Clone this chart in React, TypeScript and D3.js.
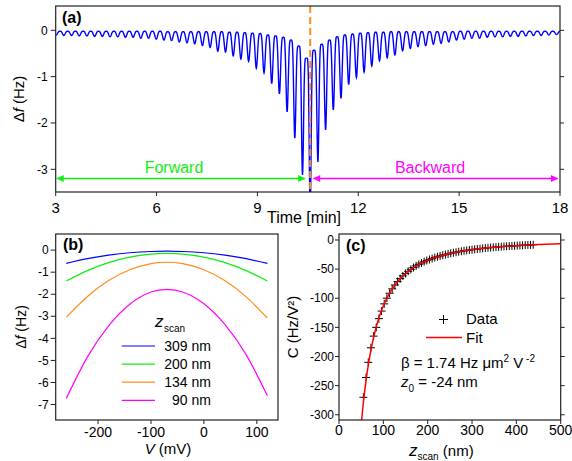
import React from 'react';
import * as d3 from 'd3';

const FONT = "'Liberation Sans', Arial, Helvetica, sans-serif";

// ---------- Panel (a) data ----------
const TIME_TICKS = [3, 6, 9, 12, 15, 18];
const DF_TICKS_A = [0, -1, -2, -3];
const SWEEP_START = 3.013; // min, time of the first dip
const SWEEP_PERIOD = 0.229; // min per oscillation
const TURN_TIME = 10.57; // min, forward -> backward
// depth of each oscillation dip (Hz), in time order
const DIP_MIN = [
  -0.10, -0.11, -0.11, -0.12, -0.12, -0.13, -0.13, -0.14, -0.14, -0.15,
  -0.15, -0.17, -0.17, -0.19, -0.21, -0.22, -0.25, -0.27, -0.29, -0.33,
  -0.37, -0.45, -0.47, -0.55, -0.62, -0.67, -0.82, -0.92, -1.15, -1.37,
  -1.76, -2.33, -3.12, -3.9,
  -2.84, -2.15, -1.72, -1.47, -1.17, -1.02, -0.90, -0.77, -0.66, -0.59,
  -0.53, -0.44, -0.39, -0.35, -0.33, -0.30, -0.28, -0.25, -0.21, -0.19,
  -0.17, -0.17, -0.15, -0.14, -0.14, -0.13, -0.13, -0.12, -0.11, -0.11,
  -0.10, -0.09,
];
// top of each oscillation (Hz), before dip j (and one after the last)
const PEAK_MAX = [
  -0.02, -0.02, -0.02, -0.02, -0.02, -0.02, -0.02, -0.02, -0.02, -0.02,
  -0.02, -0.02, -0.02, -0.02, -0.02,
  -0.03, -0.03, -0.03, -0.03, -0.03, -0.03, -0.03, -0.03,
  -0.04, -0.04, -0.05, -0.06, -0.07, -0.10, -0.12, -0.15, -0.21, -0.34, -0.60,
  -0.43, -0.30, -0.21, -0.14, -0.10, -0.08, -0.06, -0.05, -0.04, -0.04,
  -0.03, -0.03, -0.03, -0.03, -0.03, -0.03, -0.03, -0.03, -0.03,
  -0.02, -0.02, -0.02, -0.02, -0.02, -0.02, -0.02, -0.02, -0.02, -0.02,
  -0.02, -0.02, -0.02, -0.02,
];
const ARROW_Y = -3.2;

// ---------- Panel (b) data ----------
const V_TICKS = [-200, -100, 0, 100];
const DF_TICKS_B = [0, -1, -2, -3, -4, -5, -6, -7];
const BIAS_V = [-260, -220, -180, -140, -100, -70, -40, 0, 40, 80, 120];
const DF_309 = [-0.60, -0.39, -0.23, -0.12, -0.064, -0.05, -0.064, -0.12, -0.23, -0.39, -0.60];
const DF_200 = [-1.40, -0.93, -0.57, -0.32, -0.18, -0.15, -0.18, -0.32, -0.57, -0.93, -1.40];
const DF_134 = [-3.04, -2.10, -1.38, -0.89, -0.61, -0.55, -0.61, -0.89, -1.39, -2.12, -3.08];
const DF_90 = [-6.72, -4.84, -3.43, -2.45, -1.90, -1.78, -1.90, -2.43, -3.38, -4.75, -6.60];
const SERIES_B = [
  { label: '309 nm', values: DF_309, color: '#0000ff' },
  { label: '200 nm', values: DF_200, color: '#11ee11' },
  { label: '134 nm', values: DF_134, color: '#ff8c1a' },
  { label: '90 nm', values: DF_90, color: '#ff00ff' },
];

// ---------- Panel (c) data ----------
const Z_TICKS = [0, 100, 200, 300, 400, 500];
const C_TICKS = [0, -50, -100, -150, -200, -250, -300];
const Z_DATA = [
  55, 61, 66, 72, 78, 84, 90, 96,
  102, 108, 114, 120, 126, 132, 138, 144, 150, 156,
  162, 168, 174, 180, 186, 192, 198, 204, 210, 216,
  222, 228, 234, 240, 246, 252, 258, 264, 270, 276,
  282, 288, 294, 300, 306, 312, 318, 324, 330, 336,
  342, 348, 354, 360, 366, 372, 378, 384, 390, 396,
  402, 408, 414, 420, 426, 432, 438,
];
const C_DATA = [
  -270, -236, -210, -185, -165, -150, -135, -122,
  -109.6, -99.9, -91.4, -83.9, -77.3, -71.5, -66.3, -61.6, -57.5, -53.7,
  -50.3, -47.2, -44.4, -41.8, -39.5, -37.3, -35.3, -33.5, -31.8, -30.2,
  -28.8, -27.4, -26.1, -25.0, -23.9, -22.8, -21.9, -21.0, -20.1, -19.3,
  -18.6, -17.9, -17.2, -16.6, -16.0, -15.4, -14.9, -14.4, -13.9, -13.4,
  -13.0, -12.6, -12.2, -11.8, -11.4, -11.1, -10.8, -10.5, -10.2, -9.9,
  -9.6, -9.3, -9.1, -8.8, -8.6, -8.4, -8.2,
];
const FIT_Z = [51, 55, 60, 65, 70, 75, 80, 90, 100, 115, 130, 150, 175, 200, 250, 300, 350, 400, 450, 500];
const FIT_C = [-309, -279, -247, -220, -197, -178, -161, -134, -113, -90, -73.4, -57.5, -43.9, -34.7, -23.2, -16.6, -12.4, -9.7, -7.7, -6.3];

// ---------- Layout ----------
const A = { l: 55.7, r: 560, t: 6, b: 192 };
const B = { l: 55.7, r: 278, t: 234, b: 420 };
const C = { l: 339, r: 560.7, t: 234, b: 420 };
const AXIS = '#222';

function buildTrace(): [number, number][] {
  const pts: [number, number][] = [];
  const N = 16;
  for (let i = 0; i < DIP_MIN.length; i++) {
    const td = SWEEP_START + i * SWEEP_PERIOD;
    const dip = DIP_MIN[i];
    for (let m = 0; m < 2 * N; m++) {
      const phi = -0.5 + m / (2 * N);
      const peak = phi < 0 ? PEAK_MAX[i] : PEAK_MAX[i + 1];
      const depth = peak - dip;
      const p = 1.6 + 0.5 * Math.min(depth, 3.5);
      const s = (1 + Math.cos(2 * Math.PI * phi)) / 2;
      pts.push([td + phi * SWEEP_PERIOD, peak + (dip - peak) * Math.pow(s, p)]);
    }
  }
  const last = DIP_MIN.length - 1;
  pts.push([SWEEP_START + (last + 0.5) * SWEEP_PERIOD, PEAK_MAX[last + 1]]);
  return pts;
}

export default function App() {
  const xA = d3.scaleLinear().domain([3, 18]).range([A.l, A.r]);
  const yA = d3.scaleLinear().domain([-3.49, 0.525]).range([A.b, A.t]);
  const xB = d3.scaleLinear().domain([-280, 140]).range([B.l, B.r]);
  const yB = d3.scaleLinear().domain([-7.7, 0.73]).range([B.b, B.t]);
  const xC = d3.scaleLinear().domain([0, 500]).range([C.l, C.r]);
  const yC = d3.scaleLinear().domain([-309, 10.3]).range([C.b, C.t]);

  const trace = buildTrace();
  const lineA = d3.line<[number, number]>().x((d) => xA(d[0])).y((d) => yA(d[1]));
  const lineB = d3
    .line<number>()
    .x((_, i) => xB(BIAS_V[i]))
    .y((d) => yB(d))
    .curve(d3.curveNatural);
  const fitLine = d3
    .line<number>()
    .x((_, i) => xC(FIT_Z[i]))
    .y((d) => yC(d))
    .curve(d3.curveMonotoneX);

  const frame = (P: { l: number; r: number; t: number; b: number }) => (
    <rect x={P.l} y={P.t} width={P.r - P.l} height={P.b - P.t} fill="none" stroke={AXIS} strokeWidth={1.2} />
  );

  return (
    <svg width={572} height={461} style={{ position: 'absolute', left: 0, top: 0, background: '#fff' }} fontFamily={FONT}>
      <defs>
        <clipPath id="clipA">
          <rect x={A.l} y={A.t} width={A.r - A.l} height={A.b - A.t} />
        </clipPath>
        <clipPath id="clipC">
          <rect x={C.l} y={C.t} width={C.r - C.l} height={C.b - C.t} />
        </clipPath>
        <marker id="arrG" viewBox="0 0 10 10" refX={10} refY={5} markerWidth={9} markerHeight={7} markerUnits="userSpaceOnUse" orient="auto-start-reverse">
          <path d="M0,0 L10,5 L0,10 z" fill="#11ee11" />
        </marker>
        <marker id="arrM" viewBox="0 0 10 10" refX={10} refY={5} markerWidth={9} markerHeight={7} markerUnits="userSpaceOnUse" orient="auto-start-reverse">
          <path d="M0,0 L10,5 L0,10 z" fill="#ff00ff" />
        </marker>
      </defs>

      {/* ================= Panel (a) ================= */}
      <g>
        <path d={lineA(trace) || ''} fill="none" stroke="#0000ff" strokeWidth={1.4} clipPath="url(#clipA)" />
        <line x1={xA(TURN_TIME)} x2={xA(TURN_TIME)} y1={A.t} y2={A.b} stroke="#ff8c1a" strokeWidth={2} strokeDasharray="7,4" />
        <line x1={A.l + 1} x2={xA(TURN_TIME) - 5} y1={yA(ARROW_Y)} y2={yA(ARROW_Y)} stroke="#11ee11" strokeWidth={1.5} markerStart="url(#arrG)" markerEnd="url(#arrG)" />
        <line x1={xA(TURN_TIME) + 3} x2={A.r - 2} y1={yA(ARROW_Y)} y2={yA(ARROW_Y)} stroke="#ff00ff" strokeWidth={1.5} markerStart="url(#arrM)" markerEnd="url(#arrM)" />
        <text x={174} y={173} fontSize={16} fill="#11ee11" textAnchor="middle">Forward</text>
        <text x={430} y={173} fontSize={16} fill="#ff00ff" textAnchor="middle">Backward</text>
        {frame(A)}
        {DF_TICKS_A.map((v) => (
          <g key={'ay' + v}>
            <line x1={A.l - 5} x2={A.l} y1={yA(v)} y2={yA(v)} stroke={AXIS} />
            <line x1={A.r} x2={A.r + 4} y1={yA(v)} y2={yA(v)} stroke={AXIS} />
            <text x={A.l - 8} y={yA(v)} dy="0.35em" fontSize={12} textAnchor="end">{v}</text>
          </g>
        ))}
        {TIME_TICKS.map((v) => (
          <g key={'ax' + v}>
            <line x1={xA(v)} x2={xA(v)} y1={A.b} y2={A.b + 4} stroke={AXIS} />
            <text x={xA(v)} y={213} fontSize={15} textAnchor="middle">{v}</text>
          </g>
        ))}
        <text transform={`translate(24,${(A.t + A.b) / 2}) rotate(-90)`} fontSize={15} textAnchor="middle">
          Δ<tspan fontStyle="italic">f</tspan> (Hz)
        </text>
        <text x={304} y={223} fontSize={16} textAnchor="middle">Time [min]</text>
        <text x={62} y={23} fontSize={16} fontWeight="bold">(a)</text>
      </g>

      {/* ================= Panel (b) ================= */}
      <g>
        {SERIES_B.map((s) => (
          <path key={s.label} d={lineB(s.values) || ''} fill="none" stroke={s.color} strokeWidth={1.2} />
        ))}
        {frame(B)}
        {DF_TICKS_B.map((v) => (
          <g key={'by' + v}>
            <line x1={B.l - 5} x2={B.l} y1={yB(v)} y2={yB(v)} stroke={AXIS} />
            <text x={B.l - 7} y={yB(v)} dy="0.35em" fontSize={12} textAnchor="end">{v}</text>
          </g>
        ))}
        {V_TICKS.map((v) => (
          <g key={'bx' + v}>
            <line x1={xB(v)} x2={xB(v)} y1={B.b} y2={B.b + 4} stroke={AXIS} />
            <text x={xB(v)} y={436.5} fontSize={14} textAnchor="middle">{v}</text>
          </g>
        ))}
        <text transform={`translate(26,${(B.t + B.b) / 2}) rotate(-90)`} fontSize={14} textAnchor="middle">
          Δ<tspan fontStyle="italic">f</tspan> (Hz)
        </text>
        <text x={168} y={454} fontSize={15} textAnchor="middle">
          <tspan fontStyle="italic">V</tspan> (mV)
        </text>
        <text x={63} y={250} fontSize={16} fontWeight="bold">(b)</text>
        {/* legend */}
        <text x={155} y={327} fontSize={17} fontStyle="italic">z</text>
        <text x={164} y={332} fontSize={10}>scan</text>
        {SERIES_B.map((s, i) => (
          <g key={'lg' + s.label}>
            <line x1={121.7} x2={155} y1={346 + i * 18.1} y2={346 + i * 18.1} stroke={s.color} strokeWidth={1.2} />
            <text x={211} y={346 + i * 18.1 + 5} fontSize={14} textAnchor="end">{s.label}</text>
          </g>
        ))}
      </g>

      {/* ================= Panel (c) ================= */}
      <g>
        {Z_DATA.map((z, i) => (
          <path key={'cr' + i} d={`M${xC(z) - 4},${yC(C_DATA[i])}h8M${xC(z)},${yC(C_DATA[i]) - 4}v8`} stroke="#000" strokeWidth={1} fill="none" />
        ))}
        <path d={fitLine(FIT_C) || ''} fill="none" stroke="#ff0000" strokeWidth={1.5} clipPath="url(#clipC)" />
        {frame(C)}
        {C_TICKS.map((v) => (
          <g key={'cy' + v}>
            <line x1={C.l - 4} x2={C.l} y1={yC(v)} y2={yC(v)} stroke={AXIS} />
            <line x1={C.r} x2={C.r + 4} y1={yC(v)} y2={yC(v)} stroke={AXIS} />
            <text x={C.l - 5} y={yC(v)} dy="0.35em" fontSize={12} textAnchor="end">{v}</text>
          </g>
        ))}
        {Z_TICKS.map((v) => (
          <g key={'cx' + v}>
            <line x1={xC(v)} x2={xC(v)} y1={C.b} y2={C.b + 4} stroke={AXIS} />
            <text x={xC(v)} y={435} fontSize={14} textAnchor="middle">{v}</text>
          </g>
        ))}
        <text transform={`translate(298,${(C.t + C.b) / 2}) rotate(-90)`} fontSize={15} textAnchor="middle">
          C (Hz/V²)
        </text>
        <text x={409} y={456} fontSize={15}>
          <tspan fontStyle="italic" fontSize={17}>z</tspan>
          <tspan fontSize={10} dy={4}>scan</tspan>
          <tspan dy={-4}> (nm)</tspan>
        </text>
        <text x={346} y={251} fontSize={16} fontWeight="bold">(c)</text>
        {/* legend */}
        <path d="M439,319.5h9M443.5,315v9" stroke="#000" strokeWidth={1} />
        <text x={466} y={324} fontSize={15}>Data</text>
        <line x1={426} x2={462} y1={337.5} y2={337.5} stroke="#ff0000" strokeWidth={1.5} />
        <text x={466} y={342.5} fontSize={15}>Fit</text>
        <text x={401} y={368} fontSize={15}>
          β<tspan dx={4}>= 1.74 Hz μm</tspan>
          <tspan fontSize={10} dy={-6}>2</tspan>
          <tspan dy={6}> V</tspan>
          <tspan fontSize={10} dy={-6}> -2</tspan>
        </text>
        <text x={401} y={387} fontSize={15}>
          <tspan fontStyle="italic">z</tspan>
          <tspan fontSize={10} dy={5}>0</tspan>
          <tspan dy={-5}> = -24 nm</tspan>
        </text>
      </g>
    </svg>
  );
}
